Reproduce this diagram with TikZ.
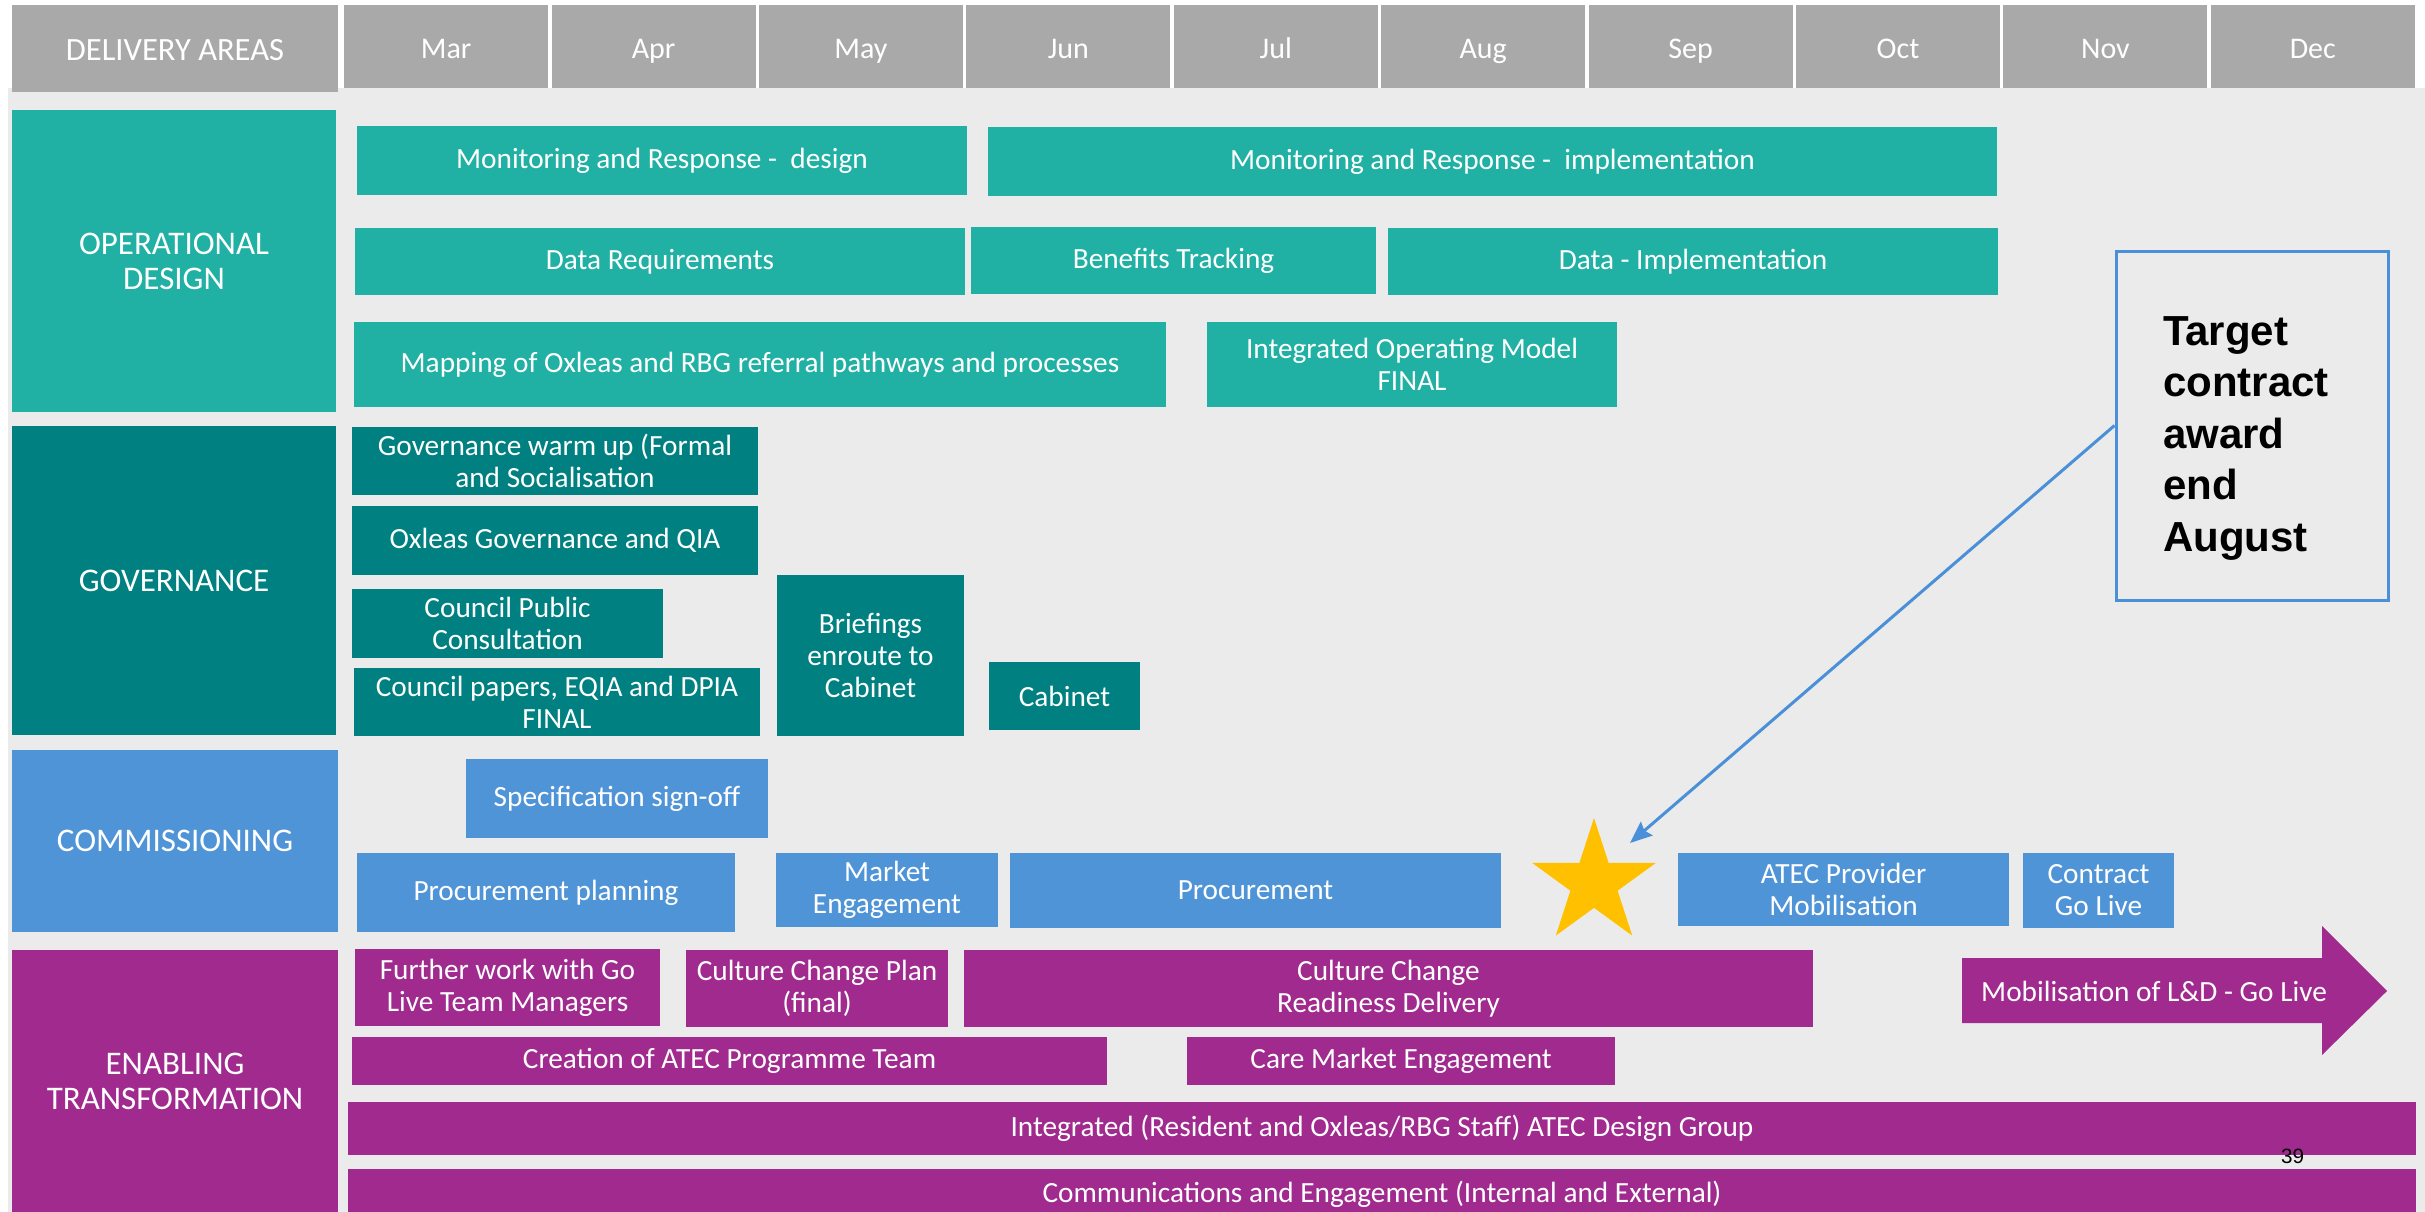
\documentclass[tikz,border=0pt]{standalone}
\usepackage{fontspec}
\setmainfont{Carlito}
\newfontfamily\notefont{Liberation Sans}
\usepackage{tikz}
\usetikzlibrary{positioning, arrows.meta, shapes.geometric}

\definecolor{bggray}{RGB}{235,235,235}
\definecolor{headgray}{RGB}{169,169,169}
\definecolor{opteal}{RGB}{33,176,164}
\definecolor{govteal}{RGB}{0,128,128}
\definecolor{comblue}{RGB}{80,148,216}
\definecolor{enpurple}{RGB}{160,42,142}
\definecolor{staryellow}{RGB}{255,192,0}
\definecolor{pointblue}{RGB}{74,144,217}

\newcommand{\monthsize}{\fontsize{30}{33}\selectfont}
\newcommand{\areasize}{\fontsize{33}{35}\selectfont}
\newcommand{\tasksize}{\fontsize{29.3}{32}\selectfont}
\newcommand{\targetsize}{\bfseries\notefont\fontsize{42}{51.5}\selectfont}

\tikzset{
    >={Stealth[length=22pt, width=18pt, inset=3pt]},
    every node/.style={inner sep=0pt, text=white, align=center},
    header/.style={fill=headgray, minimum width=204pt, minimum height=83pt,
        text height=26pt, text depth=2pt, font=\monthsize},
    area/.style={minimum width=324pt, font=\areasize},
    optask/.style={fill=opteal, font=\tasksize},
    govtask/.style={fill=govteal, font=\tasksize},
    comtask/.style={fill=comblue, font=\tasksize},
    entask/.style={fill=enpurple, font=\tasksize},
    pointer/.style={->, draw=pointblue, line width=3pt},
}

\begin{document}
\begin{tikzpicture}[x=1pt, y=-1pt]
    \useasboundingbox (0,0) rectangle (2425,1212);
    \fill[white] (0,0) rectangle (2425,1212);
    \fill[bggray] (8,88) rectangle (2425,1212);

    % header row
    \node[header, minimum width=326pt, minimum height=87pt, font=\fontsize{32.5}{35}\selectfont] (areas) at (175,48.5) {DELIVERY AREAS};
    \node[header, anchor=north west] (mar) at (344,5) {Mar};
    \node[header, right=3pt of mar] (apr) {Apr};
    \node[header, right=3pt of apr] (may) {May};
    \node[header, right=3pt of may] (jun) {Jun};
    \node[header, right=3pt of jun] (jul) {Jul};
    \node[header, right=3pt of jul] (aug) {Aug};
    \node[header, right=3pt of aug] (sep) {Sep};
    \node[header, right=3pt of sep] (oct) {Oct};
    \node[header, right=3pt of oct] (nov) {Nov};
    \node[header, right=3pt of nov] (dec) {Dec};

    % delivery areas
    \node[area, fill=opteal, minimum height=302pt] (opdesign) at (174,261) {OPERATIONAL\\DESIGN};
    \node[area, fill=govteal, minimum height=309pt] (governance) at (174,580.5) {GOVERNANCE};
    \node[area, fill=comblue, minimum width=326pt, minimum height=182pt] (commissioning) at (175,841) {COMMISSIONING};
    \node[area, fill=enpurple, minimum width=326pt, minimum height=262pt] (enabling) at (175,1081) {ENABLING\\TRANSFORMATION};

    % operational design
    \node[optask, minimum width=610pt, minimum height=69pt] (mrdesign) at (662,160.5) {Monitoring and Response - \ design};
    \node[optask, minimum width=1009pt, minimum height=69pt] (mrimpl) at (1492.5,161.5) {Monitoring and Response - \ implementation};
    \node[optask, minimum width=610pt, minimum height=67pt] (datareq) at (660,261.5) {Data Requirements};
    \node[optask, minimum width=405pt, minimum height=67pt] (benefits) at (1173.5,260.5) {Benefits Tracking};
    \node[optask, minimum width=610pt, minimum height=67pt] (dataimpl) at (1693,261.5) {Data - Implementation};
    \node[optask, minimum width=812pt, minimum height=85pt] (mapping) at (760,364.5) {Mapping of Oxleas and RBG referral pathways and processes};
    \node[optask, minimum width=410pt, minimum height=85pt] (opmodel) at (1412,364.5) {Integrated Operating Model\\FINAL};

    % governance
    \node[govtask, minimum width=406pt, minimum height=68pt] (warmup) at (555,461) {Governance warm up (Formal\\and Socialisation};
    \node[govtask, minimum width=406pt, minimum height=69pt] (qia) at (555,540.5) {Oxleas Governance and QIA};
    \node[govtask, minimum width=311pt, minimum height=69pt] (consult) at (507.5,623.5) {Council Public\\Consultation};
    \node[govtask, minimum width=406pt, minimum height=68pt] (papers) at (557,702) {Council papers, EQIA and DPIA\\FINAL};
    \node[govtask, minimum width=187pt, minimum height=161pt] (briefings) at (870.5,655.5) {Briefings\\enroute to\\Cabinet};
    \node[govtask, minimum width=151pt, minimum height=68pt] (cabinet) at (1064.5,696) {Cabinet};

    % commissioning
    \node[comtask, minimum width=302pt, minimum height=79pt] (spec) at (617,798.5) {Specification sign-off};
    \node[comtask, minimum width=378pt, minimum height=79pt] (procplan) at (546,892.5) {Procurement planning};
    \node[comtask, minimum width=222pt, minimum height=74pt] (market) at (887,890) {Market\\Engagement};
    \node[comtask, minimum width=491pt, minimum height=75pt] (procure) at (1255.5,890.5) {Procurement};
    \node[comtask, minimum width=331pt, minimum height=73pt] (provider) at (1843.5,889.5) {ATEC Provider\\Mobilisation};
    \node[comtask, minimum width=151pt, minimum height=75pt] (golive) at (2098.5,890.5) {Contract\\Go Live};
    \node[star, star points=5, star point ratio=2.618, minimum size=130pt, fill=staryellow] (star) at (1594,883) {};
    \coordinate (starhit) at (1630,843);

    % enabling transformation
    \node[entask, minimum width=305pt, minimum height=77pt] (further) at (507.5,987.5) {Further work with Go\\Live Team Managers};
    \node[entask, minimum width=262pt, minimum height=77pt] (ccplan) at (817,988.5) {Culture Change Plan\\(final)};
    \node[entask, minimum width=849pt, minimum height=77pt] (readiness) at (1388.5,988.5) {Culture Change\\Readiness Delivery};
    \node[entask, minimum width=755pt, minimum height=48pt] (atecteam) at (729.5,1061) {Creation of ATEC Programme Team};
    \node[entask, minimum width=428pt, minimum height=48pt] (caremkt) at (1401,1061) {Care Market Engagement};
    \node[entask, minimum width=2068pt, minimum height=53pt] (designgrp) at (1382,1128.5) {Integrated (Resident and Oxleas/RBG Staff) ATEC Design Group};
    \node[entask, minimum width=2068pt, minimum height=50pt] (comms) at (1382,1194) {Communications and Engagement (Internal and External)};
    \fill[enpurple] (1962,958) -- (2322,958) -- (2322,926) -- (2387,991) -- (2322,1055) -- (2322,1023) -- (1962,1023) -- cycle;
    \node[font=\tasksize, anchor=west] (mobilise) at (1981,991) {Mobilisation of L\&D - Go Live};

    % call-out
    \node[draw=pointblue, line width=3pt, fill=bggray, minimum width=272pt, minimum height=349pt,
          text width=178pt, inner xsep=47pt, align=left, text=black, font=\targetsize] (target) at (2252,425.5)
          {\rule{0pt}{54pt}Target\\contract\\award\\end\\August};
    \draw[pointer] (target.west) -- (starhit);

    \node[text=black, font={\notefont\fontsize{20.7}{24}\selectfont}] (pagenum) at (2292.5,1156.5) {39};
\end{tikzpicture}
\end{document}
